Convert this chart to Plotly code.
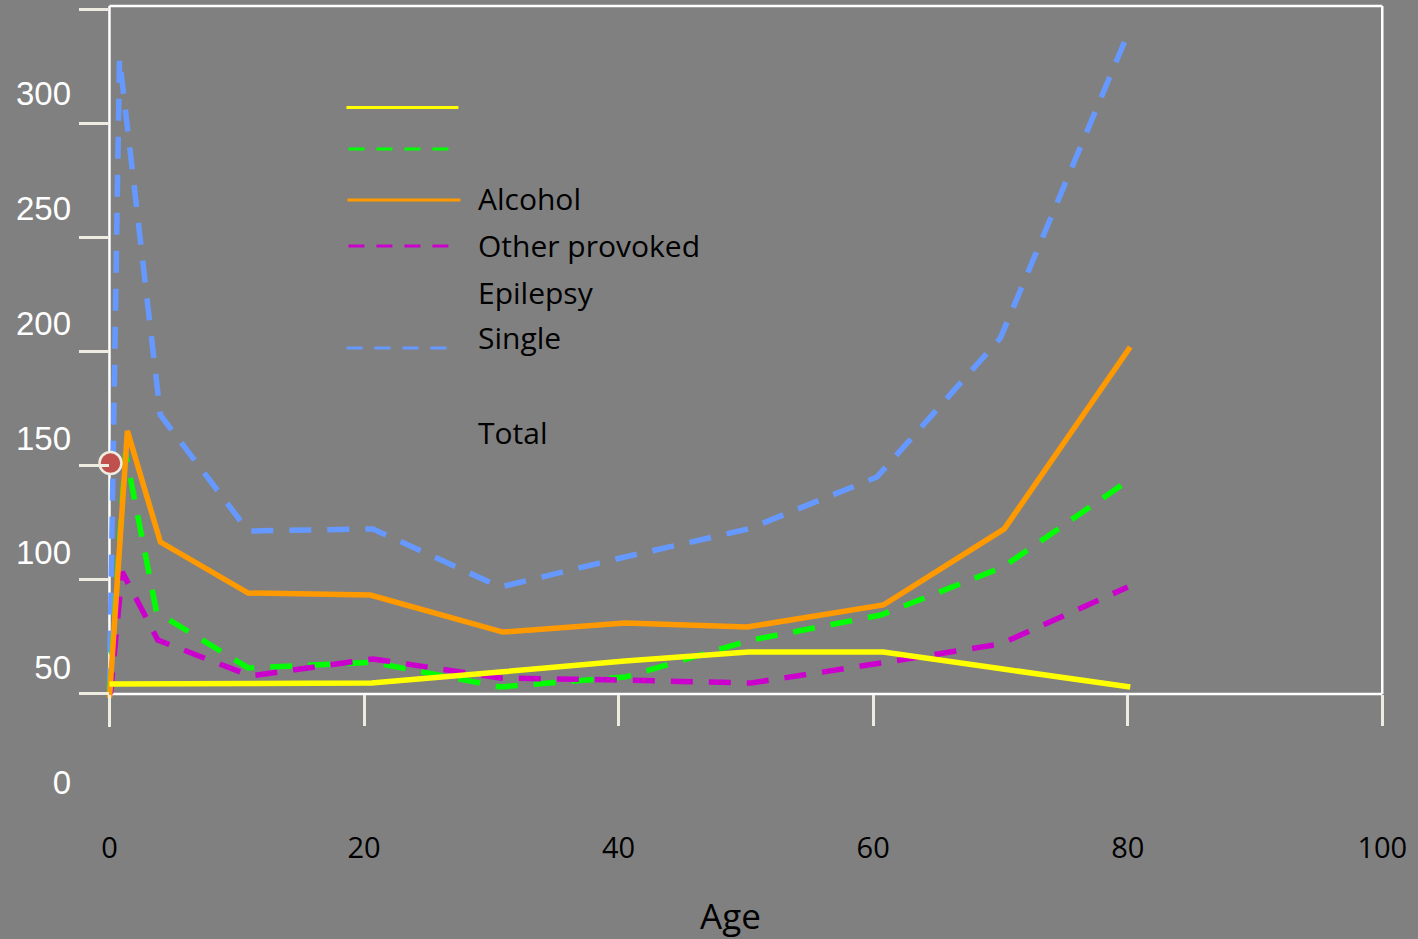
import plotly.graph_objects as go

# ---------------- data ----------------
yellow_age = [0, 20.6, 30.7, 40.5, 50.2, 60.8, 70.2, 80.2]
yellow_val = [42.9, 43.3, 48.1, 52.9, 56.8, 56.8, 49.4, 41.6]

green_age = [0, 1.26, 3.7, 10.9, 20.7, 30.7, 40.5, 50.4, 60.6, 70.2, 80.1]
green_val = [39.0, 143.5, 74.2, 49.9, 52.3, 41.6, 45.9, 62.0, 72.9, 93.8, 131.7]

orange_age = [0, 1.41, 4.0, 10.9, 20.5, 30.9, 40.5, 50.1, 60.8, 70.3, 80.2]
orange_val = [36.8, 153.1, 104.7, 82.5, 81.6, 65.5, 69.4, 67.7, 77.3, 110.4, 189.6]

magenta_age = [0.08, 1.0, 3.8, 11.1, 20.7, 30.7, 40.5, 50.4, 60.6, 70.0, 80.0]
magenta_val = [38.5, 91.7, 62.0, 46.4, 53.8, 45.5, 44.6, 43.3, 52.0, 60.3, 85.1]

blue_age = [0, 0.79, 4.0, 10.9, 20.7, 30.7, 40.5, 50.2, 60.3, 70.0, 80.2]
blue_val = [40.0, 315.3, 160.0, 109.5, 110.4, 85.1, 98.2, 110.4, 133.0, 193.5, 328.5]

marker_age = [0.08]
marker_val = [139.1]

x_ticks = [0, 20, 40, 60, 80, 100]
y_ticks = [0, 50, 100, 150, 200, 250, 300]
legend_labels = ["Alcohol", "Other provoked", "Epilepsy", "Single", "Total"]

# ---------------- geometry ----------------
W, H = 1418, 939
KX = 12.73                    # px per year
PX0 = 109                     # pixel of age 0
X_RANGE = [-2, 101]
PL = PX0 + X_RANGE[0] * KX    # plot left px
PR = PX0 + X_RANGE[1] * KX    # plot right px
PT, PB = 2, 800               # plot top / bottom px
KY = 2.2967                   # px per unit (label scale)
PY0 = 782.5                   # pixel of value 0
Y_RANGE = [-(PB - PY0) / KY, (PY0 - PT) / KY]
KY2 = 114.0
PY20 = 693.5
Y2_RANGE = [-(PB - PY20) / KY2, (PY20 - PT) / KY2]


def fx(px):
    return (px - PL) / (PR - PL)


def fy(py):
    return (PB - py) / (PB - PT)


BG = "#808080"
BEIGE = "#EEECE1"
DASH = "22px,16px"
LW = 5.5
TXT_FONT = "Open Sans"

fig = go.Figure()

fig.add_trace(go.Scatter(x=blue_age, y=blue_val, mode="lines", name="Single",
                         line=dict(color="#6699FF", width=LW, dash=DASH), showlegend=False))
fig.add_trace(go.Scatter(x=green_age, y=green_val, mode="lines", name="green",
                         line=dict(color="#00FF00", width=LW, dash=DASH), showlegend=False))
fig.add_trace(go.Scatter(x=magenta_age, y=magenta_val, mode="lines", name="Other provoked",
                         line=dict(color="#CC00CC", width=LW, dash=DASH), showlegend=False))
fig.add_trace(go.Scatter(x=orange_age, y=orange_val, mode="lines", name="Alcohol",
                         line=dict(color="#FF9900", width=LW), showlegend=False))
fig.add_trace(go.Scatter(x=yellow_age, y=yellow_val, mode="lines", name="yellow",
                         line=dict(color="#FFFF00", width=LW), showlegend=False))
fig.add_trace(go.Scatter(x=marker_age, y=marker_val, mode="markers", name="point",
                         marker=dict(color="#C0504D", size=22, line=dict(color=BEIGE, width=2.5)),
                         cliponaxis=False, showlegend=False))
# anchor trace for tick-mark axes
fig.add_trace(go.Scatter(x=[], y=[], xaxis="x2", yaxis="y2", showlegend=False, hoverinfo="skip"))

shapes = []
white = dict(color="white", width=2.5)
for (x0, y0, x1, y1) in [(109, 6, 1382, 6), (109, 6, 109, 727), (1382, 6, 1382, 694), (109, 694, 1382, 694)]:
    shapes.append(dict(type="line", xref="paper", yref="paper", x0=fx(x0), y0=fy(y0), x1=fx(x1), y1=fy(y1),
                       line=white, layer="below"))

leg_lines = [
    (346, 458, 107.5, "#FFFF00", "solid"),
    (348, 448, 149, "#00FF00", "16px,12px"),
    (347, 460, 200, "#FF9900", "solid"),
    (348, 448, 246, "#CC00CC", "16px,12px"),
    (346, 446, 348, "#6699FF", "16px,12px"),
]
for x0, x1, yy, c, d in leg_lines:
    shapes.append(dict(type="line", xref="paper", yref="paper", x0=fx(x0), x1=fx(x1), y0=fy(yy), y1=fy(yy),
                       line=dict(color=c, width=3, dash=d)))

annotations = []
for lab, yy in zip(legend_labels, [198, 245, 292.5, 337.5, 432]):
    annotations.append(dict(text=lab, xref="paper", yref="paper", x=fx(477), y=fy(yy),
                            xanchor="left", yanchor="middle", showarrow=False, borderpad=0,
                            font=dict(family=TXT_FONT, size=30, color="black")))
annotations.append(dict(text="Age", xref="paper", yref="paper", x=fx(730), y=fy(915.5),
                        xanchor="center", yanchor="middle", showarrow=False, borderpad=0,
                        font=dict(family=TXT_FONT, size=35, color="black")))

fig.update_layout(
    width=W, height=H,
    margin=dict(l=PL, r=W - PR, t=PT, b=H - PB, autoexpand=False),
    paper_bgcolor=BG, plot_bgcolor="rgba(0,0,0,0)",
    showlegend=False,
    shapes=shapes, annotations=annotations,
    xaxis=dict(range=X_RANGE, tickvals=x_ticks, ticktext=[str(v) for v in x_ticks],
               ticks="", ticklen=0, showline=False, showgrid=False, zeroline=False,
               tickfont=dict(family=TXT_FONT, size=29, color="black"), ticklabelstandoff=28),
    yaxis=dict(range=Y_RANGE, tickvals=y_ticks, ticktext=[str(v) for v in y_ticks],
               ticks="", ticklen=0, showline=False, showgrid=False, zeroline=False,
               tickfont=dict(family="Liberation Sans", size=33, color="white"), ticklabelstandoff=12),
    xaxis2=dict(overlaying="x", anchor="free", position=fy(694), side="bottom", range=X_RANGE,
                tickvals=x_ticks, ticks="outside", ticklen=31, tickwidth=3, tickcolor=BEIGE,
                showticklabels=False, showline=False, showgrid=False, zeroline=False),
    yaxis2=dict(overlaying="y", anchor="free", position=fx(109), side="left", range=Y2_RANGE,
                tickvals=[0, 1, 2, 3, 4, 5, 6], ticks="outside", ticklen=30, tickwidth=3, tickcolor=BEIGE,
                showticklabels=False, showline=False, showgrid=False, zeroline=False),
)

fig.write_html("out.html", config={"displayModeBar": False},
               post_script="document.body.style.margin='0';document.body.style.background='#808080';")
